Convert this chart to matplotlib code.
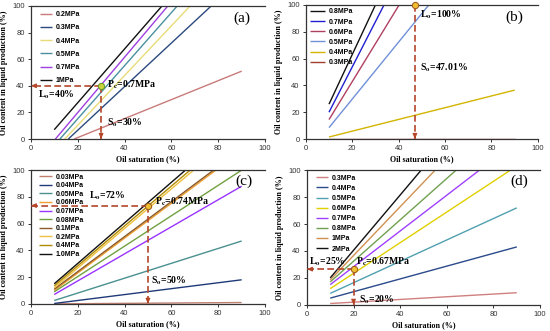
import matplotlib
matplotlib.use("Agg")
import matplotlib.pyplot as plt

plt.rcParams["mathtext.fontset"] = "stix"

SERIF = ["Liberation Serif", "DejaVu Serif"]
SANS = ["Liberation Sans", "DejaVu Sans"]
ARROW_COLOR = "#b5462a"

# ---- panel (a) ----
a_labels = ["0.2MPa", "0.3MPa", "0.4MPa", "0.5MPa", "0.7MPa", "1MPa"]
a_colors = ["#c87a7a", "#2b4a7e", "#e8dc78", "#4a90a0", "#a040e0", "#111111"]
a_x0 = [18.5, 16.0, 14.5, 12.4, 10.5, 10.0]
a_y0 = [0, 0, 0, 0, 0, 7]
a_x1 = [90, 77, 68, 62.5, 58.5, 56]
a_y1 = [51, 100, 100, 100, 100, 100]

# ---- panel (b) ----
b_labels = ["0.8MPa", "0.7MPa", "0.6MPa", "0.5MPa", "0.4MPa", "0.3MPa"]
b_colors = ["#111111", "#2020d0", "#b04060", "#7090d8", "#d4b400", "#a04030"]
b_x0 = [10, 10, 10, 10, 10, 10]
b_y0 = [26, 20, 14.5, 8.5, 1.5, 0]
b_x1 = [30, 33.7, 40.2, 53, 90, 90]
b_y1 = [100, 100, 100, 100, 36.5, 0]

# ---- panel (c) ----
c_labels = ["0.03MPa", "0.04MPa", "0.05MPa", "0.06MPa", "0.07MPa",
            "0.08MPa", "0.1MPa", "0.2MPa", "0.4MPa", "1.0MPa"]
c_colors = ["#c08070", "#1f3a78", "#4a9090", "#f0a030", "#9933ff",
            "#70a040", "#8b5a2b", "#f0c040", "#b08a00", "#111111"]
c_x0 = [10] * 10
c_y0 = [0, 0.3, 2.5, 10, 7, 9, 11, 12, 13.5, 15]
c_x1 = [90, 90, 90, 79, 90, 90, 78, 69.5, 68, 66]
c_y1 = [1, 18, 47, 100, 88, 100, 100, 100, 100, 100]

# ---- panel (d) ----
d_labels = ["0.3MPa", "0.4MPa", "0.5MPa", "0.6MPa", "0.7MPa",
            "0.8MPa", "1MPa", "2MPa"]
d_colors = ["#d08080", "#2a4a8a", "#50a0b0", "#e0d000", "#a040ff",
            "#70a050", "#d09050", "#111111"]
d_x0 = [10] * 8
d_y0 = [1, 5, 8.5, 12, 15, 17, 18.5, 20]
d_x1 = [90, 90, 90, 87.3, 74, 64, 55, 49]
d_y1 = [9, 43, 72, 100, 100, 100, 100, 100]

# critical points: (So, Lo)
a_point = (30, 40)
b_point = (47.01, 100)
c_point = (50, 73.5)
d_point = (20, 26.5)


def setup_axes(ax):
    ax.set_xlim(0, 100)
    ax.set_ylim(0, 100)
    ax.set_xticks(range(0, 101, 20))
    ax.set_yticks(range(0, 101, 20))
    ax.spines["right"].set_visible(False)
    for s in ["left", "bottom", "top"]:
        ax.spines[s].set_color("#333333")
        ax.spines[s].set_linewidth(0.9)
    ax.tick_params(direction="out", length=2.5, width=0.7, labelsize=5.5,
                   colors="#333333", pad=2)
    for lab in ax.get_xticklabels() + ax.get_yticklabels():
        lab.set_family(SANS)
    ax.set_xlabel("Oil saturation (%)", family=SERIF, weight="bold",
                  fontsize=5.8, labelpad=2)
    ax.set_ylabel("Oil content in liquid production (%)", family=SERIF,
                  weight="bold", fontsize=5.8, labelpad=3)


def draw_lines(ax, labels, colors, x0, y0, x1, y1):
    for lab, col, xa, ya, xb, yb in zip(labels, colors, x0, y0, x1, y1):
        ax.plot([xa, xb], [ya, yb], color=col, lw=1.0, label=lab,
                solid_capstyle="butt")


def draw_legend(ax, anchor, spacing, handle):
    ax.legend(loc="upper left", bbox_to_anchor=anchor, frameon=False,
              prop={"family": SANS, "weight": "bold", "size": 5},
              labelspacing=spacing, handlelength=handle, handletextpad=0.5,
              borderpad=0, borderaxespad=0)


def dashed_arrow(ax, start, end):
    ax.plot([start[0], end[0]], [start[1], end[1]], color=ARROW_COLOR,
            lw=1.2, ls=(0, (4, 2)), clip_on=False, zorder=4)
    dx = 1.5 if start[0] > end[0] else 0
    dy = 1.5 if start[1] > end[1] else 0
    ax.annotate("", xy=end, xytext=(end[0] + dx, end[1] + dy),
                arrowprops=dict(arrowstyle="-|>,head_length=0.3,head_width=0.13",
                                color=ARROW_COLOR, lw=0.8, shrinkA=0, shrinkB=0),
                annotation_clip=False, zorder=5)


def mark_point(ax, pt, face, edge):
    ax.plot([pt[0]], [pt[1]], "o", ms=4.5, mfc=face, mec=edge, mew=0.8,
            clip_on=False, zorder=6)


def note(ax, x, y, s, size=7):
    ax.text(x, y, s, family=SERIF, weight="bold", fontsize=size,
            ha="left", va="center", zorder=7)


fig = plt.figure(figsize=(5.5, 3.31), dpi=100)
ax_a = fig.add_axes([0.056, 0.580, 0.426, 0.402])
ax_b = fig.add_axes([0.556, 0.580, 0.422, 0.405])
ax_c = fig.add_axes([0.056, 0.082, 0.426, 0.404])
ax_d = fig.add_axes([0.558, 0.079, 0.424, 0.407])

# (a)
setup_axes(ax_a)
draw_lines(ax_a, a_labels, a_colors, a_x0, a_y0, a_x1, a_y1)
draw_legend(ax_a, (0.038, 0.962), 0.9, 1.8)
dashed_arrow(ax_a, a_point, (0, a_point[1]))
dashed_arrow(ax_a, a_point, (a_point[0], 0))
mark_point(ax_a, a_point, "#c8d43c", "#6a9a2a")
note(ax_a, 3, 33, r"L$_{\mathbf{o}}$=40%")
note(ax_a, 32.5, 40.5, r"P$_{\mathbf{c}}$=0.7MPa")
note(ax_a, 32.5, 12, r"S$_{\mathbf{o}}$=30%")
ax_a.text(90, 91, "(a)", family=SERIF, fontsize=11, ha="center", va="center")

# (b)
setup_axes(ax_b)
draw_lines(ax_b, b_labels, b_colors, b_x0, b_y0, b_x1, b_y1)
draw_legend(ax_b, (0.017, 0.974), 0.45, 2.2)
dashed_arrow(ax_b, b_point, (b_point[0], 0))
mark_point(ax_b, b_point, "#f0c030", "#a06020")
note(ax_b, 49, 93, r"L$_{\mathbf{o}}$=100%")
note(ax_b, 49, 53, r"S$_{\mathbf{o}}$=47.01%")
ax_b.text(90, 91, "(b)", family=SERIF, fontsize=11, ha="center", va="center")

# (c)
setup_axes(ax_c)
draw_lines(ax_c, c_labels, c_colors, c_x0, c_y0, c_x1, c_y1)
draw_legend(ax_c, (0.034, 0.974), 0.23, 1.9)
dashed_arrow(ax_c, c_point, (0, c_point[1]))
dashed_arrow(ax_c, c_point, (c_point[0], 0))
mark_point(ax_c, c_point, "#f0c030", "#a06020")
note(ax_c, 25, 80.5, r"L$_{\mathbf{o}}$=72%")
note(ax_c, 53, 76, r"P$_{\mathbf{c}}$=0.74MPa")
note(ax_c, 51.5, 17, r"S$_{\mathbf{o}}$=50%")
ax_c.text(91, 92, "(c)", family=SERIF, fontsize=11, ha="center", va="center")

# (d)
setup_axes(ax_d)
draw_lines(ax_d, d_labels, d_colors, d_x0, d_y0, d_x1, d_y1)
draw_legend(ax_d, (0.039, 0.966), 0.45, 1.8)
dashed_arrow(ax_d, d_point, (0, d_point[1]))
dashed_arrow(ax_d, d_point, (d_point[0], 0))
mark_point(ax_d, d_point, "#f0c030", "#a06020")
note(ax_d, 1, 32, r"L$_{\mathbf{o}}$=25%")
note(ax_d, 21, 32, r"P$_{\mathbf{c}}$=0.67MPa")
note(ax_d, 22.5, 4, r"S$_{\mathbf{o}}$=20%")
ax_d.text(91, 92, "(d)", family=SERIF, fontsize=11, ha="center", va="center")

fig.savefig("out.png", dpi=100)
